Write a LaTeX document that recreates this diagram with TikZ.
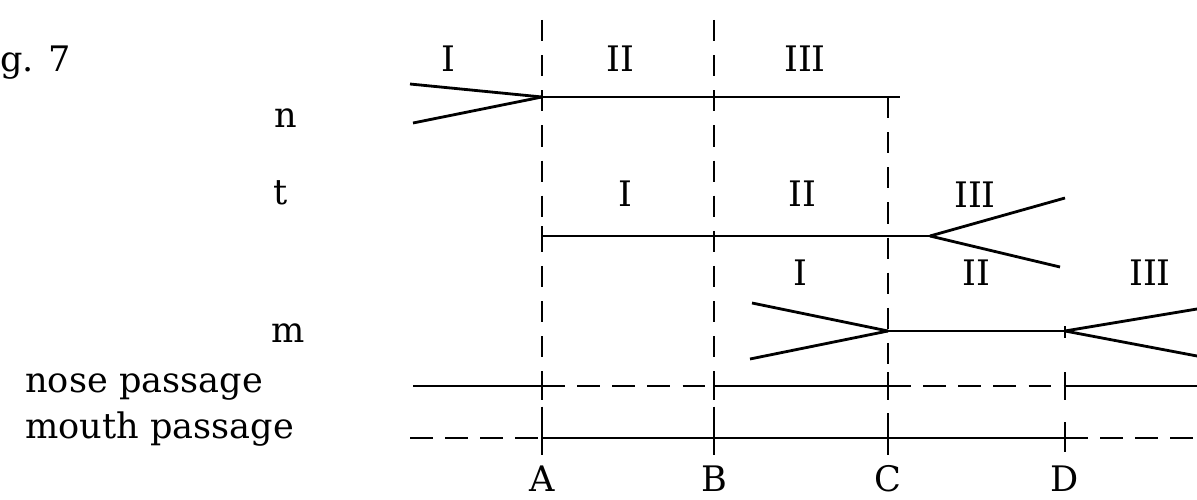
\documentclass[tikz,border=0pt]{standalone}
\usepackage{fontspec}
\setmainfont{DejaVu Serif}
\begin{document}
\begin{tikzpicture}[x=0.02cm,y=-0.02cm,
  lbl/.style={inner sep=0pt,font=\fontsize{20pt}{24pt}\selectfont},
  lblL/.style={lbl,anchor=base west},
  lblC/.style={lbl,anchor=base},
  heavy/.style={line width=1.6pt},
  thin/.style={line width=1.2pt},
  dsh/.style={line width=1.3pt,dash pattern=on 13pt off 7pt},
  vdsh/.style={line width=1.1pt,dash pattern=on 12pt off 8pt}]
\useasboundingbox (0,0) rectangle (1197,500);
% coordinates
\coordinate (nL1) at (410,84);
\coordinate (nL2) at (413,123);
\coordinate (nA) at (542,97);
\coordinate (nE) at (900,97);
\coordinate (Atop) at (542,20);
\coordinate (Abot) at (542,455);
\coordinate (Btop) at (714,20);
\coordinate (Bbot) at (714,455);
\coordinate (Ctop) at (888,97);
\coordinate (Cbot) at (888,455);
\coordinate (tA) at (542,236);
\coordinate (tV) at (930,236);
\coordinate (tU) at (1065,198);
\coordinate (tD) at (1060,267);
\coordinate (mU) at (752,303);
\coordinate (mD) at (750,359);
\coordinate (mC) at (888,331);
\coordinate (mV) at (1065,331);
\coordinate (mU2) at (1197,309);
\coordinate (mD2) at (1197,356);
\coordinate (np0) at (413,386);
\coordinate (npA) at (542,386);
\coordinate (npB) at (714,386);
\coordinate (npC) at (888,386);
\coordinate (npD) at (1065,386);
\coordinate (np1) at (1197,386);
\coordinate (mp0) at (410,438);
\coordinate (mpA) at (542,438);
\coordinate (mpD) at (1065,438);
\coordinate (mp1) at (1197,438);
\begin{scope}
\clip (0,0) rectangle (1197,500);
% vertical dashed lines
\draw[vdsh] (Atop) -- (Abot);
\draw[vdsh] (Btop) -- (Bbot);
\draw[vdsh] (Ctop) -- (Cbot);
% ticks at passages
\foreach \x in {542,714,888,1065}{
  \draw[thin] (\x,372) -- (\x,400);
  \draw[thin] (\x,422) -- (\x,452);
}
\draw[thin] (1065,326) -- (1065,338);
% n
\draw[heavy] (nL1) -- (nA);
\draw[heavy] (nL2) -- (nA);
\draw[heavy] (nA) -- (nE);
% t
\draw[heavy] (tA) -- (tV);
\draw[heavy] (tV) -- (tU);
\draw[heavy] (tV) -- (tD);
\draw[thin] (542,226) -- (542,246);
% m
\draw[heavy] (mU) -- (mC);
\draw[heavy] (mD) -- (mC);
\draw[thin] (mC) -- (mV);
\draw[heavy] (mV) -- (mU2);
\draw[heavy] (mV) -- (mD2);
% nose passage
\draw[thin] (np0) -- (npA);
\draw[dsh] (npA) -- (npB);
\draw[thin] (npB) -- (npC);
\draw[dsh] (npC) -- (npD);
\draw[thin] (npD) -- (np1);
% mouth passage
\draw[dsh] (mp0) -- (mpA);
\draw[thin] (mpA) -- (mpD);
\draw[dsh] (mpD) -- (mp1);
\end{scope}
% labels
\node[lblL] (fig) at (0,72) {g. 7};
\node[lblC] (ln) at (286,128) {n};
\node[lblC] (lt) at (281,204) {t};
\node[lblC] (lm) at (288,342) {m};
\node[lblL] (lnose) at (25,392) {nose passage};
\node[lblL] (lmouth) at (25,438) {mouth passage};
\node[lblC] (n1) at (448,72) {I};
\node[lblC] (n2) at (620,72) {II};
\node[lblC] (n3) at (805,72) {III};
\node[lblC] (t1) at (625,206) {I};
\node[lblC] (t2) at (802,206) {II};
\node[lblC] (t3) at (975,207) {III};
\node[lblC] (m1) at (800,285) {I};
\node[lblC] (m2) at (976,285) {II};
\node[lblC] (m3) at (1150,285) {III};
\node[lblC] (lA) at (542,491) {A};
\node[lblC] (lB) at (714,491) {B};
\node[lblC] (lC) at (888,491) {C};
\node[lblC] (lD) at (1065,491) {D};
\end{tikzpicture}
\end{document}
